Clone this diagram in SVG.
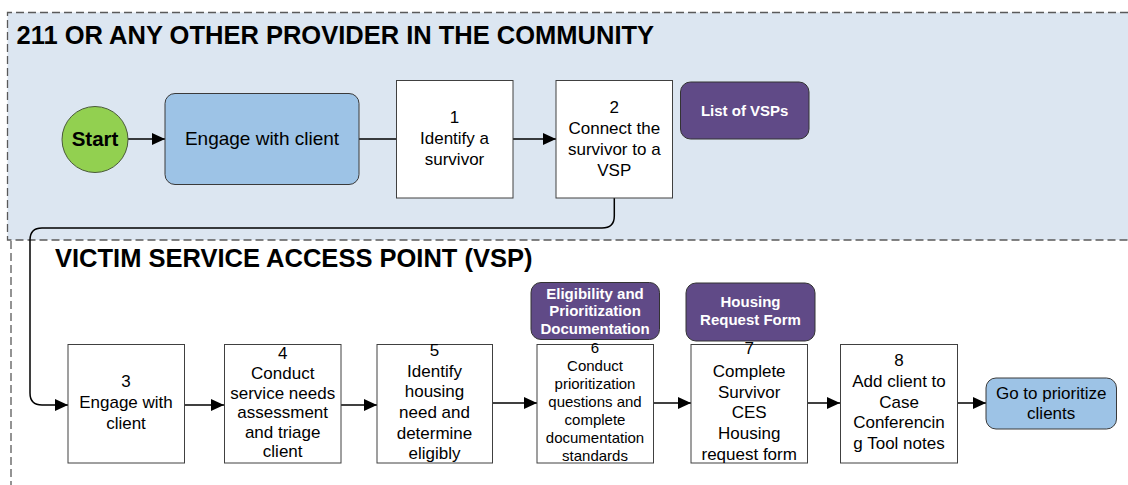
<svg xmlns="http://www.w3.org/2000/svg" width="1128" height="485" viewBox="0 0 1128 485">
<defs>
<marker id="arr" markerUnits="userSpaceOnUse" markerWidth="14" markerHeight="12" refX="13" refY="6" orient="auto">
<path d="M0,0 L13,6 L0,12 z" fill="#000"/>
</marker>
<style>
.lane{fill:none;stroke:#5a5a5a;stroke-width:1.3;stroke-dasharray:8,4}
.title{font-family:"Liberation Sans",Arial,sans-serif;font-weight:bold;font-size:25.5px;fill:#000}
.box{fill:#fff;stroke:#404040;stroke-width:1}
.t{font-family:"Liberation Sans",Arial,sans-serif;font-size:17px;fill:#000;text-anchor:middle}
.ts{font-family:"Liberation Sans",Arial,sans-serif;font-size:15px;fill:#000;text-anchor:middle}
.doc{fill:#604a87;stroke:#333;stroke-width:1}
.dt{font-family:"Liberation Sans",Arial,sans-serif;font-size:15px;font-weight:bold;fill:#fff;text-anchor:middle}
.blue{fill:#9dc3e6;stroke:#3a3a3a;stroke-width:1}
.c{fill:none;stroke:#000;stroke-width:1.5}
</style>
</defs>
<rect width="1128" height="485" fill="#fff"/>
<g id="lane-community">
<rect x="7.5" y="12.5" width="1130" height="227.5" fill="#dce6f1"/>
<path class="lane" d="M1140,12.5 H7.5 V240 H1140"/>
<text class="title" x="16.5" y="44">211 OR ANY OTHER PROVIDER IN THE COMMUNITY</text>
</g>
<g id="lane-vsp">
<path class="lane" d="M11,241 V490"/>
<text class="title" x="55" y="267">VICTIM SERVICE ACCESS POINT (VSP)</text>
</g>
<g id="connectors">
<path class="c" d="M128,139 H165" marker-end="url(#arr)"/>
<path class="c" d="M359,139 H396"/>
<path class="c" d="M513,139 H556" marker-end="url(#arr)"/>
<path class="c" d="M614.3,198 V216 Q614.3,228 602,228 H42 Q30,228 30,240 V393 Q30,405 42,405 H68" marker-end="url(#arr)"/>
<path class="c" d="M184,405 H224" marker-end="url(#arr)"/>
<path class="c" d="M341,405 H377" marker-end="url(#arr)"/>
<path class="c" d="M492,403 H537" marker-end="url(#arr)"/>
<path class="c" d="M653,403 H691" marker-end="url(#arr)"/>
<path class="c" d="M808,403 H840" marker-end="url(#arr)"/>
<path class="c" d="M958,403 H986" marker-end="url(#arr)"/>
</g>
<g id="start">
<circle cx="95" cy="139.5" r="33" fill="#92d050" stroke="#4a5a3a" stroke-width="1"/>
<text x="95" y="146" font-family="'Liberation Sans',Arial,sans-serif" font-size="20.5" font-weight="bold" text-anchor="middle">Start</text>
</g>
<g id="engage">
<rect class="blue" x="165" y="93.5" width="194" height="91" rx="10"/>
<text x="262" y="144.5" font-family="'Liberation Sans',Arial,sans-serif" font-size="19" text-anchor="middle">Engage with client</text>
</g>
<g id="step1">
<rect class="box" x="396.5" y="80.5" width="116.5" height="117.5"/>
<text class="t" x="454.5" y="123">1</text>
<text class="t" x="454.5" y="144">Identify a</text>
<text class="t" x="454.5" y="165">survivor</text>
</g>
<g id="step2">
<rect class="box" x="556" y="80.5" width="116.5" height="117.5"/>
<text class="t" x="614.3" y="113">2</text>
<text class="t" x="614.3" y="134">Connect the</text>
<text class="t" x="614.3" y="155">survivor to a</text>
<text class="t" x="614.3" y="175.5">VSP</text>
</g>
<g id="list-vsps">
<rect class="doc" x="680.5" y="82" width="128.5" height="57" rx="10"/>
<text class="dt" x="744.7" y="115.5">List of VSPs</text>
</g>
<g id="step3">
<rect class="box" x="68" y="344.5" width="116.5" height="118.5"/>
<text class="t" x="126" y="387">3</text>
<text class="t" x="126" y="408">Engage with</text>
<text class="t" x="126" y="429">client</text>
</g>
<g id="step4">
<rect class="box" x="224.5" y="344.5" width="116.5" height="118.5"/>
<text class="t" x="282.7" y="358.5">4</text>
<text class="t" x="282.7" y="379">Conduct</text>
<text class="t" x="282.7" y="398.5">service needs</text>
<text class="t" x="282.7" y="418">assessment</text>
<text class="t" x="282.7" y="437.5">and triage</text>
<text class="t" x="282.7" y="457">client</text>
</g>
<g id="step5">
<rect class="box" x="377" y="344.5" width="115.5" height="118.5"/>
<text class="t" x="434.5" y="356">5</text>
<text class="t" x="434.5" y="376.5">Identify</text>
<text class="t" x="434.5" y="397">housing</text>
<text class="t" x="434.5" y="418">need and</text>
<text class="t" x="434.5" y="438.5">determine</text>
<text class="t" x="434.5" y="459">eligibly</text>
</g>
<g id="eligibility-doc">
<rect class="doc" x="531" y="282.5" width="128.5" height="57" rx="10"/>
<text class="dt" x="595" y="298.5">Eligibility and</text>
<text class="dt" x="595" y="316">Prioritization</text>
<text class="dt" x="595" y="333.5">Documentation</text>
</g>
<g id="step6">
<rect class="box" x="537" y="344.5" width="116.5" height="118.5"/>
<text class="ts" x="595" y="352.5">6</text>
<text class="ts" x="595" y="371">Conduct</text>
<text class="ts" x="595" y="389">prioritization</text>
<text class="ts" x="595" y="407">questions and</text>
<text class="ts" x="595" y="425">complete</text>
<text class="ts" x="595" y="443">documentation</text>
<text class="ts" x="595" y="460.5">standards</text>
</g>
<g id="housing-form">
<rect class="doc" x="686" y="283" width="129" height="58" rx="10"/>
<text class="dt" x="750.5" y="307">Housing</text>
<text class="dt" x="750.5" y="325">Request Form</text>
</g>
<g id="step7">
<rect class="box" x="691" y="344.5" width="116.5" height="118.5"/>
<text class="t" x="749.2" y="354">7</text>
<text class="t" x="749.2" y="377">Complete</text>
<text class="t" x="749.2" y="397.5">Survivor</text>
<text class="t" x="749.2" y="418">CES</text>
<text class="t" x="749.2" y="439">Housing</text>
<text class="t" x="749.2" y="459.5">request form</text>
</g>
<g id="step8">
<rect class="box" x="840.5" y="344.5" width="117" height="118.5"/>
<text class="t" x="899" y="366">8</text>
<text class="t" x="899" y="387">Add client to</text>
<text class="t" x="899" y="407.5">Case</text>
<text class="t" x="899" y="428">Conferencin</text>
<text class="t" x="899" y="448.5">g Tool notes</text>
</g>
<g id="go-prioritize">
<rect class="blue" x="986" y="378" width="130.5" height="51" rx="10"/>
<text class="t" x="1051.2" y="398.5">Go to prioritize</text>
<text class="t" x="1051.2" y="418.5">clients</text>
</g>
</svg>
